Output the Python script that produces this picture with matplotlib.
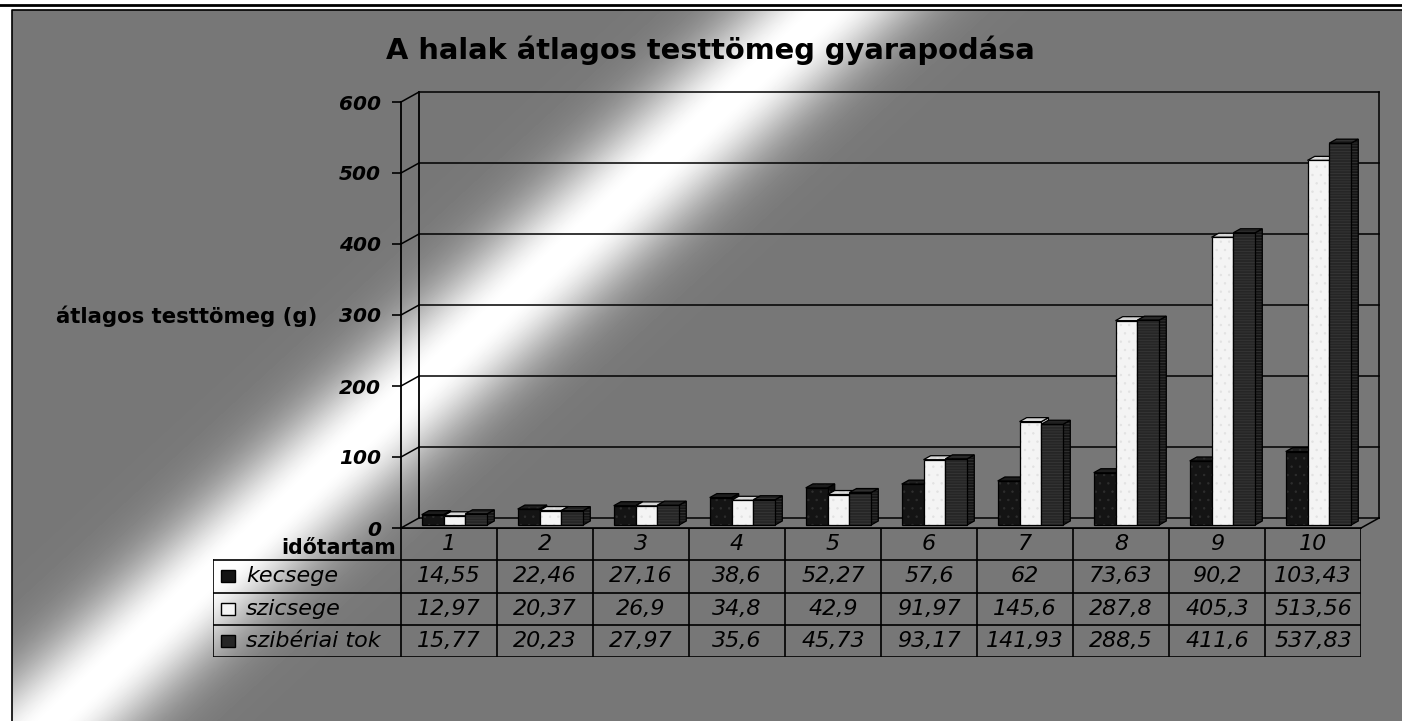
import numpy as np
import matplotlib.pyplot as plt
from matplotlib.patches import Polygon, Rectangle

# data
categories = ["1", "2", "3", "4", "5", "6", "7", "8", "9", "10"]
series_names = ["kecsege", "szicsege", "szibériai tok"]
kecsege = [14.55, 22.46, 27.16, 38.6, 52.27, 57.6, 62, 73.63, 90.2, 103.43]
szicsege = [12.97, 20.37, 26.9, 34.8, 42.9, 91.97, 145.6, 287.8, 405.3, 513.56]
szib_tok = [15.77, 20.23, 27.97, 35.6, 45.73, 93.17, 141.93, 288.5, 411.6, 537.83]
yticks = [0, 100, 200, 300, 400, 500, 600]

series = [kecsege, szicsege, szib_tok]
# front, side, top colours per series, plus texture (hatch colour, hatch)
face_cols = [("#141414", "#0a0a0a", "#1c1c1c"),
             ("#f4f4f4", "#cfcfcf", "#d6d6d6"),
             ("#262626", "#151515", "#202020")]
textures = [("#2e2e2e", ".."), ("#e2e2e2", ".."), ("#3a3a3a", "------")]

W, H = 1402, 721
fig = plt.figure(figsize=(W / 100, H / 100), dpi=100)
plt.rcParams['font.family'] = 'DejaVu Sans'
plt.rcParams['hatch.linewidth'] = 0.5

# background with the diagonal light stripe
bg = fig.add_axes([0, 0, 1, 1])
bg.set_xlim(0, W)
bg.set_ylim(H, 0)
bg.axis('off')
yy, xx = np.mgrid[0:H, 0:W] + 0.5
h = xx - (838 - 1.09 * yy)
prof = np.exp(-(np.clip(np.abs(h) - 8, 0, None) / 82) ** 2)
img = 119 + (255 - 119) * prof
img[(xx < 12) | (yy < 10)] = 255
bg.imshow(img, cmap='gray', vmin=0, vmax=255, extent=(0, W, H, 0),
          interpolation='bilinear', zorder=0, aspect='auto')
bg.plot([0, W], [4.5, 4.5], color='black', lw=2, zorder=2)
bg.plot([12, 12, W], [H, 10, 10], color='black', lw=1.2, zorder=2)

# texts around the plot
bg.text(710, 50, "A halak átlagos testtömeg gyarapodása", ha='center', va='center',
        fontsize=20.8, fontweight='bold', zorder=3)
bg.text(56, 316, "átlagos testtömeg (g)", ha='left', va='center',
        fontsize=15.3, fontweight='bold', zorder=3)
bg.text(396, 548, "időtartam", ha='right', va='center',
        fontsize=14.8, fontweight='bold', zorder=3)

# main plot: front plane of the 3d box
ax = fig.add_axes([401 / W, (H - 528) / H, 960 / W, 426 / H])
ax.set_xlim(0, 10)
ax.set_ylim(0, 600)
ax.set_facecolor('none')
for s in ['top', 'right']:
    ax.spines[s].set_visible(False)
ax.spines['left'].set_linewidth(1.3)
ax.spines['bottom'].set_linewidth(1.2)
ax.set_xticks([])
ax.set_yticks(yticks)
ax.set_yticklabels([str(t) for t in yticks], fontsize=14.5, fontweight='bold', style='italic')
ax.tick_params(axis='y', direction='out', length=6.5, width=1.2, pad=8)

DX = 18 / 96            # depth offset in category units
DY = 10 * 600 / 426     # depth offset in value units
for v in yticks:
    ax.plot([DX, 10 + DX], [v + DY, v + DY], color='black', lw=1.1, clip_on=False)
    ax.plot([0, DX], [v, v + DY], color='black', lw=1.1, clip_on=False)
ax.plot([DX, DX], [DY, 600 + DY], color='black', lw=1.3, clip_on=False)
ax.plot([10 + DX, 10 + DX], [DY, 600 + DY], color='black', lw=1.1, clip_on=False)
ax.plot([10, 10 + DX], [0, DY], color='black', lw=1.1, clip_on=False)

# 3d bars
bw = 0.227
f0, f1 = 0.3, 0.7
for i in range(len(categories)):
    for j, vals in enumerate(series):
        v = vals[i]
        x0 = i + 0.5 - 1.5 * bw + j * bw
        fx0, fy0 = f0 * DX, f0 * DY
        fx1, fy1 = f1 * DX, f1 * DY
        fc, sc, tc = face_cols[j]
        hc, hp = textures[j]
        front = [(x0 + fx0, fy0), (x0 + bw + fx0, fy0), (x0 + bw + fx0, v + fy0), (x0 + fx0, v + fy0)]
        side = [(x0 + bw + fx0, fy0), (x0 + bw + fx1, fy1), (x0 + bw + fx1, v + fy1), (x0 + bw + fx0, v + fy0)]
        top = [(x0 + fx0, v + fy0), (x0 + bw + fx0, v + fy0), (x0 + bw + fx1, v + fy1), (x0 + fx1, v + fy1)]
        z = 3 + i * 0.1 + j * 0.01
        for pts, col in [(side, sc), (top, tc), (front, fc)]:
            ax.add_patch(Polygon(pts, closed=True, facecolor=col, edgecolor=hc, hatch=hp,
                                 lw=0, clip_on=False, zorder=z))
            ax.add_patch(Polygon(pts, closed=True, facecolor='none', edgecolor='black',
                                 lw=0.9, clip_on=False, zorder=z))

# data table under the plot
LEG = 188 / 96
tab = fig.add_axes([213 / W, (H - 657) / H, (1361 - 213) / W, 129 / H])
tab.set_xlim(-LEG, 10)
tab.set_ylim(4, 0)
tab.axis('off')
tab.plot([0, 10], [0, 0], color='black', lw=1.2)
for r in range(1, 5):
    tab.plot([-LEG, 10], [r, r], color='black', lw=1.2)
for c in range(0, 11):
    tab.plot([c, c], [0, 4], color='black', lw=1.2)
tab.plot([-LEG, -LEG], [1, 4], color='black', lw=1.2)

for i, cat in enumerate(categories):
    tab.text(i + 0.5, 0.5, cat, ha='center', va='center', fontsize=16, style='italic')
    for j, vals in enumerate(series):
        txt = f"{vals[i]:g}".replace('.', ',')
        tab.text(i + 0.5, j + 1.5, txt, ha='center', va='center', fontsize=16, style='italic')

for j, name in enumerate(series_names):
    tab.add_patch(Rectangle((-LEG + 8 / 96, j + 1.5 - 6 / 32.25), 14 / 96, 12 / 32.25,
                            facecolor=face_cols[j][0], edgecolor='black', lw=1))
    tab.text(-LEG + 33 / 96, j + 1.5, name, ha='left', va='center', fontsize=16, style='italic')

fig.savefig('out.png', dpi=100)
